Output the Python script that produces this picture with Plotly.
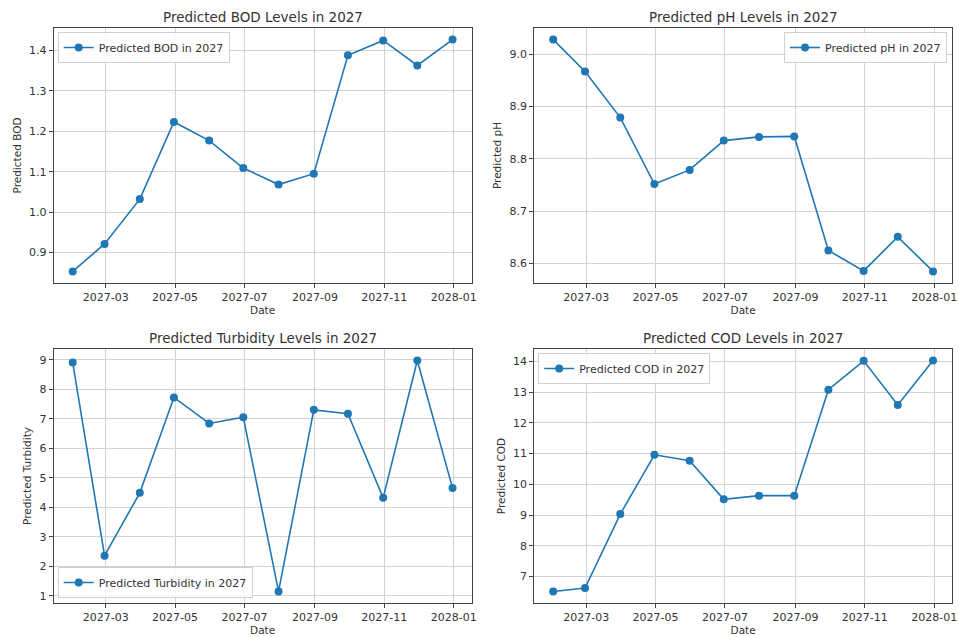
import pandas as pd
import plotly.graph_objects as go

dates = pd.date_range("2027-01-31", periods=12, freq="ME")

bod = [0.853, 0.921, 1.032, 1.223, 1.177, 1.109, 1.068, 1.095, 1.388, 1.425, 1.363, 1.427]
ph = [9.028, 8.967, 8.879, 8.752, 8.779, 8.835, 8.842, 8.843, 8.625, 8.586, 8.651, 8.585]
turbidity = [8.90, 2.36, 4.49, 7.72, 6.84, 7.05, 1.15, 7.30, 7.17, 4.32, 8.97, 4.65]
cod = [6.51, 6.62, 9.03, 10.96, 10.77, 9.51, 9.63, 9.63, 13.08, 14.02, 12.58, 14.03]

series = [
    ("BOD", bod, [0.9, 1.0, 1.1, 1.2, 1.3, 1.4], ".1f"),
    ("pH", ph, [8.6, 8.7, 8.8, 8.9, 9.0], ".1f"),
    ("Turbidity", turbidity, [1, 2, 3, 4, 5, 6, 7, 8, 9], "d"),
    ("COD", cod, [7, 8, 9, 10, 11, 12, 13, 14], "d"),
]
x_ticks = pd.to_datetime(["2027-03-01", "2027-05-01", "2027-07-01", "2027-09-01", "2027-11-01", "2028-01-01"])
x_tick_labels = ["2027-03", "2027-05", "2027-07", "2027-09", "2027-11", "2028-01"]

W, H = 959, 637
# axes boxes in pixels: (left, top, right, bottom)
boxes = [(54, 28, 474, 283), (537, 28, 957, 283), (54, 349, 474, 603), (537, 349, 957, 603)]
legend_pos = [
    dict(x=58 / W, y=1 - 32 / H, xanchor="left", yanchor="top"),
    dict(x=952 / W, y=1 - 32 / H, xanchor="right", yanchor="top"),
    dict(x=58 / W, y=1 - 598 / H, xanchor="left", yanchor="bottom"),
    dict(x=541 / W, y=1 - 353 / H, xanchor="left", yanchor="top"),
]

FONT = "DejaVu Sans"
BLUE = "#1f77b4"
fig = go.Figure()

span = dates[-1] - dates[0]
xr = [dates[0] - span * 0.05, dates[-1] + span * 0.05]

annotations = []
for i, (name, vals, yt, fmt) in enumerate(series):
    n = "" if i == 0 else str(i + 1)
    lname = "legend" + n
    fig.add_trace(go.Scatter(
        x=dates, y=vals, mode="lines+markers", name=f"Predicted {name} in 2027",
        line=dict(color=BLUE, width=1.6), marker=dict(color=BLUE, size=8),
        xaxis="x" + n, yaxis="y" + n, legend=lname, showlegend=True,
    ))
    l, t, r, b = boxes[i]
    vmin, vmax = min(vals), max(vals)
    pad = (vmax - vmin) * 0.05
    common = dict(showline=True, mirror=True, linecolor="#444", linewidth=1,
                  showgrid=True, gridcolor="#d3d3d3", gridwidth=1, zeroline=False,
                  ticks="outside", ticklen=4, tickcolor="#444",
                  tickfont=dict(family=FONT, size=11, color="#333"))
    fig.layout["xaxis" + n] = dict(
        domain=[l / W, r / W], anchor="y" + n, range=xr, type="date",
        tickvals=x_ticks, ticktext=x_tick_labels,
        title=dict(text="Date", font=dict(family=FONT, size=10.5, color="#333"), standoff=3),
        **common)
    yticktext = [format(v, fmt) for v in yt]
    fig.layout["yaxis" + n] = dict(
        domain=[1 - b / H, 1 - t / H], anchor="x" + n, range=[vmin - pad, vmax + pad],
        tickvals=yt, ticktext=yticktext,
        title=dict(text=f"Predicted {name}", font=dict(family=FONT, size=10.5, color="#333"), standoff=5),
        **common)
    fig.layout[lname] = dict(
        **legend_pos[i], bgcolor="rgba(255,255,255,0.85)", bordercolor="#d0d0d0", borderwidth=1,
        font=dict(family=FONT, size=11, color="#333"), itemwidth=30, tracegroupgap=0,
    )
    annotations.append(dict(
        text=f"Predicted {name} Levels in 2027", x=(l + r) / 2 / W, y=1 - (t - 11) / H,
        xref="paper", yref="paper", showarrow=False, xanchor="center", yanchor="middle",
        font=dict(family=FONT, size=13.5, color="#333")))

fig.update_layout(
    width=W, height=H, margin=dict(l=0, r=0, t=0, b=0),
    paper_bgcolor="white", plot_bgcolor="white",
    annotations=annotations, font=dict(family=FONT),
)
fig.write_html("out.html", post_script="document.body.style.margin='0px';",
               config={"displayModeBar": False})
